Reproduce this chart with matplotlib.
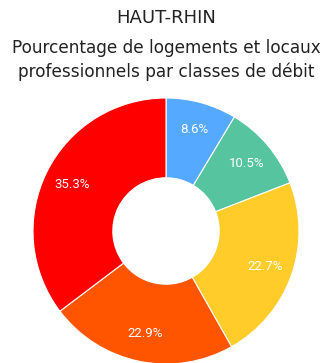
import matplotlib
matplotlib.use("Agg")
import matplotlib.pyplot as plt

# Classes de débit, dans l'ordre horaire depuis midi
classes = ["Très haut débit", "Haut débit", "Débit moyen", "Débit faible", "Débit très faible"]
parts = [8.6, 10.5, 22.7, 22.9, 35.3]
couleurs = ["#55AAFF", "#55C49F", "#FFCC2A", "#FF5500", "#FF0000"]

W, H = 333, 363
fig = plt.figure(figsize=(W / 100, H / 100), dpi=100)

# centre du donut et rayons en pixels
cx, cy, r_ext = 166, 231, 133
ax = fig.add_axes([(cx - r_ext) / W, (H - cy - r_ext) / H, 2 * r_ext / W, 2 * r_ext / H])

wedges, texts, autotexts = ax.pie(
    parts,
    colors=couleurs,
    startangle=90,
    counterclock=False,
    radius=1,
    autopct=lambda p: f"{p:.1f}%",
    pctdistance=0.79,
    wedgeprops=dict(width=0.6, edgecolor="white", linewidth=0.8),
)
for t in autotexts:
    t.set_color("white")
    t.set_fontsize(9.5)
    t.set_family("Roboto")

ax.set_xlim(-1, 1)
ax.set_ylim(-1, 1)
ax.axis("off")

fig.text(0.5, 1 - 18 / H, "HAUT-RHIN", ha="center", va="center", fontsize=13, color="#222222")
fig.text(0.5, 1 - 48 / H, "Pourcentage de logements et locaux", ha="center", va="center",
         fontsize=12.2, color="#222222")
fig.text(0.5, 1 - 72 / H, "professionnels par classes de débit", ha="center", va="center",
         fontsize=12.2, color="#222222")

fig.savefig("out.png", dpi=100)
